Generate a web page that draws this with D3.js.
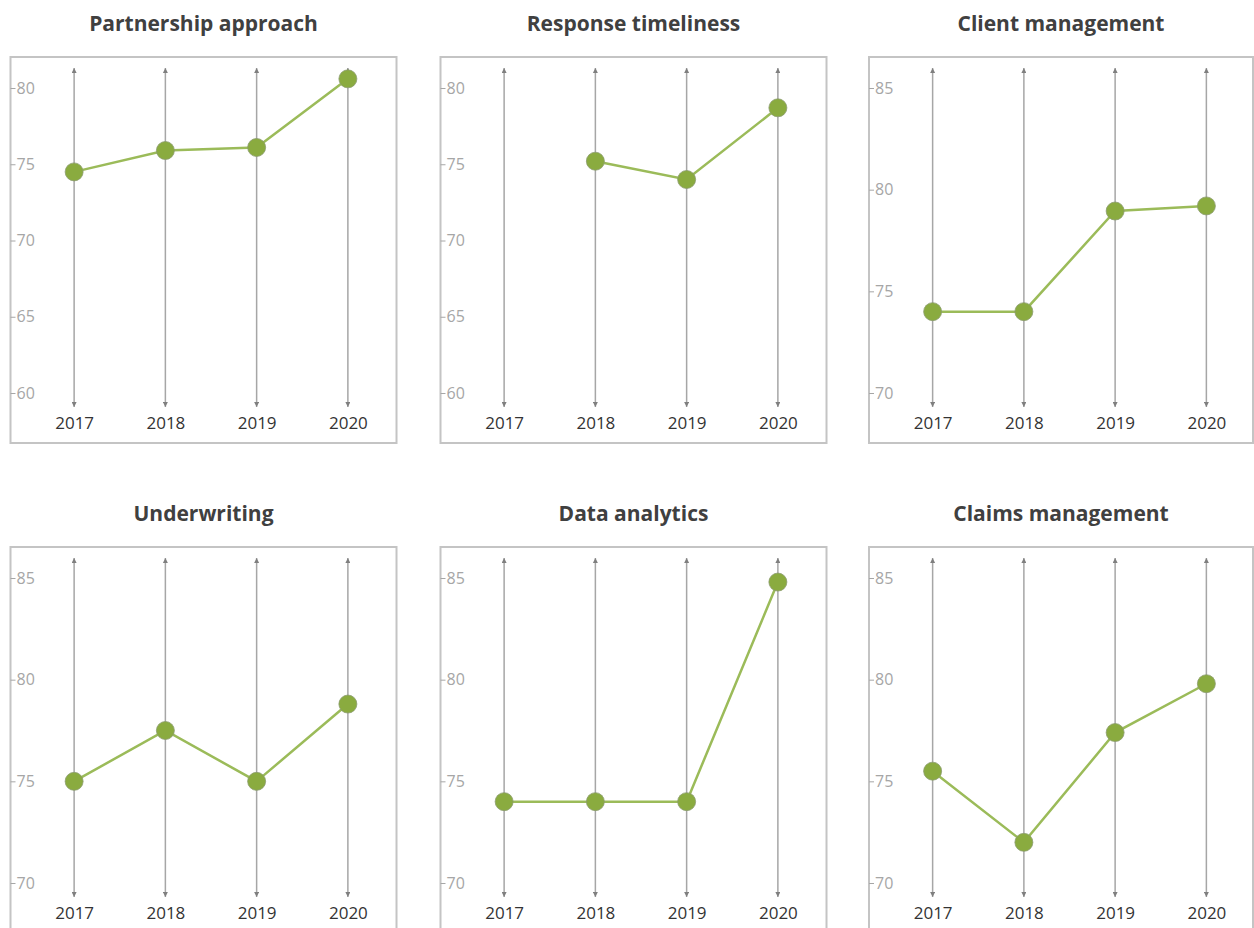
<!DOCTYPE html>
<html>
<head>
<meta charset="utf-8">
<script src="https://cdn.jsdelivr.net/npm/d3@7"></script>
<style>
  body { margin: 0; background: #fff; }
  .title { font-family: "Open Sans", sans-serif; font-weight: 700; font-size: 21px; fill: #404040; }
  .ytick text { font-family: "Open Sans", sans-serif; font-size: 16px; fill: #a6a6a6; }
  .xtick text { font-family: "Open Sans", sans-serif; font-size: 17px; fill: #333; }
</style>
</head>
<body>
<div id="chart"></div>
<script>
const years = ["2017", "2018", "2019", "2020"];
const titles = ["Partnership approach", "Response timeliness", "Client management",
                "Underwriting", "Data analytics", "Claims management"];

const partnership = [74.5, 75.9, 76.1, 80.6];
const response = [null, 75.2, 74.0, 78.7];
const client = [74.0, 74.0, 78.95, 79.2];
const underwriting = [75.0, 77.5, 75.0, 78.8];
const analytics = [74.0, 74.0, 74.0, 84.8];
const claims = [75.5, 72.0, 77.4, 79.8];
const seriesList = [partnership, response, client, underwriting, analytics, claims];

const ticksLow = [60, 65, 70, 75, 80];
const ticksHigh = [70, 75, 80, 85];
const tickSets = [ticksLow, ticksLow, ticksHigh, ticksHigh, ticksHigh, ticksHigh];

const width = 1254, height = 928;
const panelW = 386, panelH = 386;
const panelX = [10.5, 440.5, 869];
const panelY = [57, 547];

const svg = d3.select("#chart").append("svg")
  .attr("width", width).attr("height", height)
  .style("display", "block");

const defs = svg.append("defs");
["up", "down"].forEach((dir) => {
  defs.append("marker")
    .attr("id", "arrow-" + dir)
    .attr("viewBox", "0 0 10 10")
    .attr("refX", 5).attr("refY", dir === "up" ? 0 : 10)
    .attr("markerWidth", 5).attr("markerHeight", 6)
    .attr("markerUnits", "userSpaceOnUse")
    .attr("orient", "0")
    .append("path")
    .attr("d", dir === "up" ? "M0,10 L5,0 L10,10 Z" : "M0,0 L5,10 L10,0 Z")
    .attr("fill", "#7f7f7f");
});

const x = d3.scalePoint().domain(years).range([18, 383]).padding(0.5);

titles.forEach((title, i) => {
  const col = i % 3, row = Math.floor(i / 3);
  const w = col === 2 ? 384 : panelW;
  const g = svg.append("g")
    .attr("transform", `translate(${panelX[col]},${panelY[row]})`);

  svg.append("text")
    .attr("class", "title")
    .attr("x", panelX[col] + w / 2)
    .attr("y", panelY[row] - 26)
    .attr("text-anchor", "middle")
    .text(title);

  g.append("rect")
    .attr("width", w).attr("height", panelH)
    .attr("fill", "none")
    .attr("stroke", "#c4c4c4")
    .attr("stroke-width", 2);

  const ticks = tickSets[i];
  const y = d3.scaleLinear().domain(d3.extent(ticks)).range([336, 31]);

  const yAxis = g.append("g")
    .attr("class", "ytick")
    .call(d3.axisRight(y).tickValues(ticks).tickSize(5).tickPadding(1));
  yAxis.select(".domain").remove();
  yAxis.selectAll("line").attr("stroke", "#a6a6a6");

  g.selectAll(".drop")
    .data(years)
    .join("line")
    .attr("x1", (d) => x(d)).attr("x2", (d) => x(d))
    .attr("y1", 11).attr("y2", 350)
    .attr("stroke", "#a6a6a6")
    .attr("stroke-width", 1.5)
    .attr("marker-start", "url(#arrow-up)")
    .attr("marker-end", "url(#arrow-down)");

  const xAxis = g.append("g")
    .attr("class", "xtick")
    .attr("transform", "translate(0,357)")
    .call(d3.axisBottom(x).tickSize(0).tickPadding(3));
  xAxis.select(".domain").remove();

  const data = seriesList[i];
  const line = d3.line()
    .defined((d) => d != null)
    .x((d, j) => x(years[j]))
    .y((d) => y(d));

  g.append("path")
    .datum(data)
    .attr("d", line)
    .attr("fill", "none")
    .attr("stroke", "#9bbb59")
    .attr("stroke-width", 2.5);

  g.selectAll(".dot")
    .data(data.map((v, j) => ({ year: years[j], value: v })).filter((d) => d.value != null))
    .join("circle")
    .attr("cx", (d) => x(d.year))
    .attr("cy", (d) => y(d.value))
    .attr("r", 9)
    .attr("fill", "#8aab3f")
    .attr("stroke", "#8c9c70")
    .attr("stroke-width", 0.8);
});
</script>
</body>
</html>
